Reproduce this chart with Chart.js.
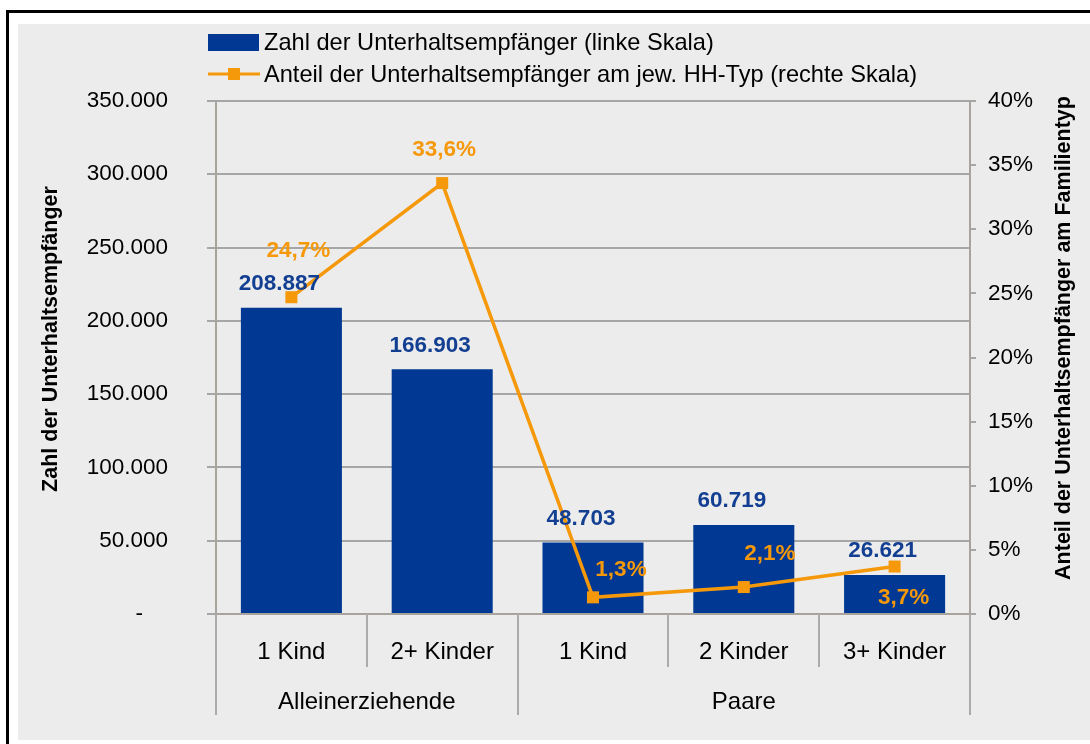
<!DOCTYPE html>
<html>
<head>
<meta charset="utf-8">
<script src="https://cdn.jsdelivr.net/npm/chart.js@4.4.0/dist/chart.umd.min.js"></script>
<style>
html,body{margin:0;padding:0;background:#fff;}
#wrap{width:1090px;height:744px;position:relative;}
canvas{display:block;}
</style>
</head>
<body>
<div id="wrap"><canvas id="c" width="1090" height="744"></canvas></div>
<script>
// ---- data ----
const categories = ['1 Kind', '2+ Kinder', '1 Kind', '2 Kinder', '3+ Kinder'];
const groups = ['Alleinerziehende', 'Paare'];
const groupSizes = [2, 3];
const recipients = [208887, 166903, 48703, 60719, 26621];
const shares = [24.7, 33.6, 1.3, 2.1, 3.7];
const leftTickLabels = ['-', '50.000', '100.000', '150.000', '200.000', '250.000', '300.000', '350.000'];
const rightTickLabels = ['0%', '5%', '10%', '15%', '20%', '25%', '30%', '35%', '40%'];
const seriesNames = ['Zahl der Unterhaltsempfänger (linke Skala)', 'Anteil der Unterhaltsempfänger am jew. HH-Typ (rechte Skala)'];
const leftTitle = 'Zahl der Unterhaltsempfänger';
const rightTitle = 'Anteil der Unterhaltsempfänger am Familientyp';

// ---- styles ----
const FONT = "'Liberation Sans', Arial, sans-serif";
const BLUE = '#003893';
const BLUE_TEXT = '#123f92';
const ORANGE = '#f5980a';
const GRID = '#a6a6a6';
const AXIS = '#a8a39c';
const DIV = '#ababab';
const BG = '#ececec';
const barLabelOffset = {dx: -12, dy: -24};
const lineLabelDx = [7, 2, 28, 26, 9];
const lineLabelDy = [-46, -33, -28, -33, 31];

function fmtInt(v) { return String(v).replace(/\B(?=(\d{3})+(?!\d))/g, '.'); }
function fmtPct(v) { return v.toFixed(1).replace('.', ',') + '%'; }

Chart.defaults.font.family = FONT;
Chart.defaults.font.size = 22.5;
Chart.defaults.color = '#000';

const deco = {
  id: 'deco',
  beforeDraw(chart) {
    const ctx = chart.ctx;
    ctx.save();
    ctx.fillStyle = '#fff';
    ctx.fillRect(0, 0, chart.width, chart.height);
    ctx.fillStyle = '#000';
    ctx.fillRect(6, 10, chart.width - 6, 3);
    ctx.fillRect(6, 10, 3, chart.height - 10);
    ctx.fillStyle = BG;
    ctx.fillRect(18, 24, chart.width - 18, 716);
    ctx.restore();
  },
  afterDatasetsDraw(chart) {
    const ctx = chart.ctx;
    ctx.save();
    ctx.font = 'bold 22.5px ' + FONT;
    ctx.textAlign = 'center';
    ctx.textBaseline = 'middle';
    const bm = chart.getDatasetMeta(0);
    bm.data.forEach((el, i) => {
      ctx.fillStyle = BLUE_TEXT;
      ctx.fillText(fmtInt(recipients[i]), el.x + barLabelOffset.dx, el.y + barLabelOffset.dy);
    });
    const lm = chart.getDatasetMeta(1);
    lm.data.forEach((el, i) => {
      ctx.fillStyle = ORANGE;
      ctx.fillText(fmtPct(shares[i]), el.x + lineLabelDx[i], el.y + lineLabelDy[i]);
    });
    ctx.restore();
  },
  afterDraw(chart) {
    const ctx = chart.ctx;
    const a = chart.chartArea;
    ctx.save();
    // category dividers
    const n = categories.length;
    const w = (a.right - a.left) / n;
    ctx.strokeStyle = DIV;
    ctx.lineWidth = 2;
    const groupBounds = [0];
    groupSizes.reduce((s, g) => { groupBounds.push(s + g); return s + g; }, 0);
    for (let i = 0; i <= n; i++) {
      const x = Math.round(a.left + i * w);
      const isGroup = groupBounds.includes(i);
      ctx.beginPath();
      ctx.moveTo(x, a.bottom);
      ctx.lineTo(x, isGroup ? a.bottom + 101 : a.bottom + 53);
      ctx.stroke();
    }
    // group labels
    ctx.fillStyle = '#000';
    ctx.font = '24px ' + FONT;
    ctx.textAlign = 'center';
    ctx.textBaseline = 'middle';
    for (let g = 0; g < groups.length; g++) {
      const x0 = a.left + groupBounds[g] * w;
      const x1 = a.left + groupBounds[g + 1] * w;
      ctx.fillText(groups[g], (x0 + x1) / 2, a.bottom + 88);
    }
    // axis titles
    ctx.font = 'bold 21.5px ' + FONT;
    ctx.save();
    ctx.translate(51, 339);
    ctx.rotate(-Math.PI / 2);
    ctx.fillText(leftTitle, 0, 0);
    ctx.restore();
    ctx.save();
    ctx.translate(1064, 338);
    ctx.rotate(-Math.PI / 2);
    ctx.fillText(rightTitle, 0, 0);
    ctx.restore();
    // legend
    const lx = a.left - 8;
    ctx.fillStyle = BLUE;
    ctx.fillRect(lx, 34, 51, 17);
    ctx.strokeStyle = ORANGE;
    ctx.lineWidth = 3;
    ctx.beginPath();
    ctx.moveTo(lx, 74);
    ctx.lineTo(lx + 52, 74);
    ctx.stroke();
    ctx.fillStyle = ORANGE;
    ctx.fillRect(lx + 26 - 6, 74 - 6, 12, 12);
    ctx.fillStyle = '#000';
    ctx.font = '23.6px ' + FONT;
    ctx.textAlign = 'left';
    ctx.fillText(seriesNames[0], lx + 56, 43);
    ctx.fillText(seriesNames[1], lx + 56, 75);
    ctx.restore();
  }
};

new Chart(document.getElementById('c'), {
  data: {
    labels: categories,
    datasets: [
      {
        type: 'bar',
        label: seriesNames[0],
        data: recipients,
        yAxisID: 'y',
        backgroundColor: BLUE,
        barPercentage: 0.67,
        categoryPercentage: 1,
        order: 1
      },
      {
        type: 'line',
        label: seriesNames[1],
        data: shares,
        yAxisID: 'y2',
        borderColor: ORANGE,
        backgroundColor: ORANGE,
        borderWidth: 3.5,
        pointStyle: 'rect',
        pointRadius: 8.5,
        pointBorderWidth: 0,
        pointBackgroundColor: ORANGE,
        tension: 0,
        clip: false,
        order: 0
      }
    ]
  },
  options: {
    responsive: false,
    animation: false,
    devicePixelRatio: 1,
    layout: {padding: {top: 101, left: 0, right: 0, bottom: 0}},
    plugins: {legend: {display: false}, tooltip: {enabled: false}},
    scales: {
      x: {
        type: 'category',
        offset: true,
        grid: {display: false, drawTicks: false},
        border: {display: true, color: AXIS, width: 2},
        ticks: {padding: 24, maxRotation: 0, autoSkip: false, font: {size: 24}, color: '#000'},
        afterFit(s) { s.height = 130; }
      },
      y: {
        position: 'left',
        min: 0,
        max: 350000,
        grid: {color: GRID, lineWidth: 2, tickLength: 9, drawTicks: true},
        border: {display: true, color: AXIS, width: 2},
        ticks: {
          stepSize: 50000,
          padding: 39,
          color: '#000',
          font: {size: 22.5},
          callback: (v, i) => i === 0 ? leftTickLabels[0] + '    ' : leftTickLabels[i]
        },
        afterFit(s) { s.width = 216; }
      },
      y2: {
        position: 'right',
        min: 0,
        max: 40,
        grid: {color: GRID, lineWidth: 2, tickLength: 6, drawOnChartArea: false},
        border: {display: true, color: AXIS, width: 2},
        ticks: {
          stepSize: 5,
          padding: 12,
          color: '#000',
          font: {size: 22.5},
          callback: (v, i) => rightTickLabels[i]
        },
        afterFit(s) { s.width = 120; }
      }
    }
  },
  plugins: [deco]
});
</script>
</body>
</html>
